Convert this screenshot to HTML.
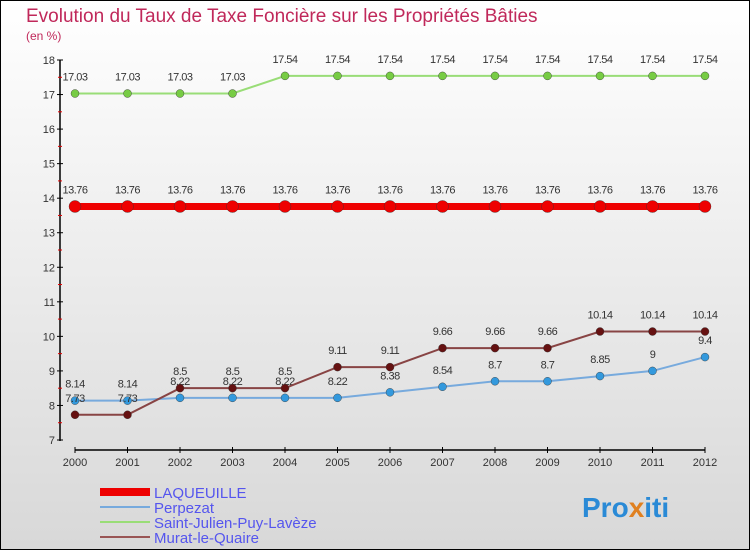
<!DOCTYPE html>
<html><head><meta charset="utf-8"><style>
body{margin:0}
#wrap{width:750px;height:550px;position:relative;box-sizing:border-box;border:1px solid #000;background:linear-gradient(#ffffff,#d8d8d8);font-family:"Liberation Sans",sans-serif;overflow:hidden}
</style></head><body>
<div id="wrap">
<svg id="c" width="750" height="550" style="position:absolute;left:-1px;top:-1px">
<text x="26" y="22" font-size="19" fill="#c0285a">Evolution du Taux de Taxe Foncière sur les Propriétés Bâties</text>
<text x="26" y="40" font-size="12" fill="#c0285a">(en %)</text>
<text x="582" y="517" font-size="28" font-weight="bold" fill="#2a8ad6">Pro<tspan fill="#e08020">x</tspan>iti</text>
</svg>
</div>
<script>
const years=['2000','2001','2002','2003','2004','2005','2006','2007','2008','2009','2010','2011','2012'];
const yTicks=[7,8,9,10,11,12,13,14,15,16,17,18];
const laqueuille=[13.76,13.76,13.76,13.76,13.76,13.76,13.76,13.76,13.76,13.76,13.76,13.76,13.76];
const perpezat=[8.14,8.14,8.22,8.22,8.22,8.22,8.38,8.54,8.7,8.7,8.85,9,9.4];
const saintJulien=[17.03,17.03,17.03,17.03,17.54,17.54,17.54,17.54,17.54,17.54,17.54,17.54,17.54];
const murat=[7.73,7.73,8.5,8.5,8.5,9.11,9.11,9.66,9.66,9.66,10.14,10.14,10.14];
const seriesNames=['LAQUEUILLE','Perpezat','Saint-Julien-Puy-Lavèze','Murat-le-Quaire'];
const svg=document.getElementById('c');const NS='http://www.w3.org/2000/svg';
function X(i){return 75+i*52.5;}
function Y(v){return 440-(v-7)*380/11;}
function mk(t,a,p){const e=document.createElementNS(NS,t);for(const k in a)e.setAttribute(k,a[k]);(p||svg).appendChild(e);return e;}
let ax=mk('line',{x1:60,y1:60,x2:60,y2:441,stroke:'#000','stroke-width':1.5});


let xa=mk('line',{x1:75,y1:450,x2:705,y2:450,stroke:'#000','stroke-width':1.5});


yTicks.forEach(v=>{mk('line',{x1:57,x2:63,y1:Y(v),y2:Y(v),stroke:'#000'});
 if(v<18)mk('line',{x1:58,x2:62,y1:Y(v+0.5),y2:Y(v+0.5),stroke:'#e00000'});
 const t=mk('text',{x:55,y:Y(v)+4,'font-size':11,fill:'#333','text-anchor':'end'});t.textContent=v;
 
 });
years.forEach((y,i)=>{mk('line',{x1:X(i),x2:X(i),y1:447,y2:453,stroke:'#000'});
 const t=mk('text',{x:X(i),y:466,'font-size':11,fill:'#333','text-anchor':'middle'});t.textContent=y;
 
 });
function series(vals,color,w,r,dot,name){
 const g=mk('g',{});
 
 
 mk('polyline',{points:vals.map((v,i)=>X(i)+','+Y(v)).join(' '),fill:'none',stroke:color,'stroke-width':w},g);
 vals.forEach((v,i)=>{const c=mk('circle',{cx:X(i),cy:Y(v),r:r,fill:dot,stroke:'#333','stroke-width':0.4},g);
  
  
  const t=mk('text',{x:X(i),y:Y(v)-13,'font-size':11,fill:'#333','text-anchor':'middle','letter-spacing':'-0.5'},g);t.textContent=v;});
}
series(saintJulien,'#99dd77',2,4,'#77cc44','series-saint-julien');
series(laqueuille,'#ee0000',7,6,'#ee0000','series-laqueuille');
series(perpezat,'#77aadd',2,4,'#3399dd','series-perpezat');
series(murat,'#884444',2,4,'#661111','series-murat');
const lc=[['#ee0000',8],['#77aadd',2],['#99dd77',2],['#995555',2]];
seriesNames.forEach((n,i)=>{const y=492+i*15;
 const l=mk('line',{x1:100,x2:150,y1:y,y2:y,stroke:lc[i][0],'stroke-width':lc[i][1]});
 
 
 const t=mk('text',{x:154,y:y+6,'font-size':15,fill:'#5555ee'});t.textContent=n;
 
 });
</script>
</body></html>
